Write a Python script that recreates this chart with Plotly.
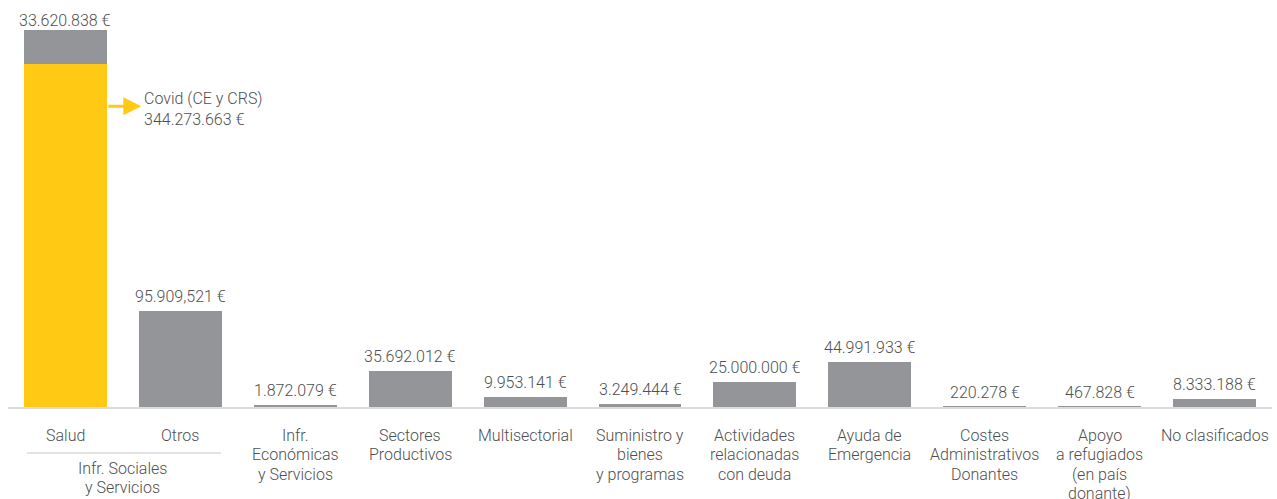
import plotly.graph_objects as go

# Sector categories (x positions) and their multi-line labels
categories = ["Salud", "Otros", "Infr. Económicas", "Sectores Productivos", "Multisectorial",
              "Suministro y bienes", "Actividades deuda", "Ayuda de Emergencia",
              "Costes Administrativos", "Apoyo a refugiados", "No clasificados"]
tick_labels = ["Salud", "Otros", "Infr.\nEconómicas\ny Servicios", "Sectores\nProductivos",
               "Multisectorial", "Suministro y\nbienes\ny programas",
               "Actividades\nrelacionadas\ncon deuda", "Ayuda de\nEmergencia",
               "Costes\nAdministrativos\nDonantes", "Apoyo\na refugiados\n(en país\ndonante)",
               "No clasificados"]
group_label = "Infr. Sociales\ny Servicios"

# Amounts in euros
covid_values = [344273663, 0, 0, 0, 0, 0, 0, 0, 0, 0, 0]
other_values = [33620838, 95909521, 1872079, 35692012, 9953141, 3249444,
                25000000, 44991933, 220278, 467828, 8333188]
value_labels = ["33.620.838 €", "95.909,521 €", "1.872.079 €", "35.692.012 €", "9.953.141 €",
                "3.249.444 €", "25.000.000 €", "44.991.933 €", "220.278 €", "467.828 €",
                "8.333.188 €"]
covid_label = "Covid (CE y CRS)<br>344.273.663 €"

GREY = "#939598"
YELLOW = "#FFC914"
TEXT = "#4f4f4f"
FONT = dict(family="Roboto", size=16, color=TEXT, weight=300)

x = list(range(len(categories)))

fig = go.Figure()
fig.add_trace(go.Bar(x=x, y=covid_values, marker_color=YELLOW, marker_line_width=0,
                     hoverinfo="skip"))
fig.add_trace(go.Bar(x=x, y=other_values, marker_color=GREY, marker_line_width=0,
                     hoverinfo="skip"))

annotations = []
# value labels above each bar (the stacked bar's label sits a little closer)
for i, (c, o, lab) in enumerate(zip(covid_values, other_values, value_labels)):
    annotations.append(dict(x=i, y=c + o, text=lab, showarrow=False, yanchor="middle",
                            yshift=10 if c else 14.5, font=FONT))

# category labels below the axis, one annotation per line
LINE = 19.5
for i, lab in enumerate(tick_labels):
    for k, line in enumerate(lab.split("\n")):
        annotations.append(dict(x=i, y=0, yref="paper", text=line, showarrow=False,
                                yanchor="middle", yshift=-(28 + k * LINE), font=FONT))
for k, line in enumerate(group_label.split("\n")):
    annotations.append(dict(x=0.5, y=0, yref="paper", text=line, showarrow=False,
                            yanchor="middle", yshift=-(61 + k * LINE), font=FONT))

# Covid callout arrow and text
arrow_y = covid_values[0] * 0.877
annotations.append(dict(x=0.66, y=arrow_y, ax=0.36, ay=arrow_y, axref="x", ayref="y",
                        text="", showarrow=True, arrowhead=2, arrowsize=1.2,
                        arrowwidth=3, arrowcolor=YELLOW))
annotations.append(dict(x=0.67, y=arrow_y, text=covid_label, showarrow=False,
                        xanchor="left", yanchor="middle", align="left", yshift=-3,
                        font=FONT))

fig.update_layout(
    barmode="stack",
    bargap=0.278,
    width=1277, height=499,
    margin=dict(l=8, r=5, t=8, b=92),
    plot_bgcolor="white", paper_bgcolor="white",
    showlegend=False,
    annotations=annotations,
    shapes=[dict(type="line", xref="x", yref="paper", x0=-0.335, x1=1.354,
                 ysizemode="pixel", yanchor=0, y0=-46, y1=-46,
                 line=dict(color="#c8c8c8", width=1.2))],
    xaxis=dict(range=[-0.5, 10.5], showticklabels=False, showgrid=False, zeroline=False,
               showline=True, linecolor="#dcdcdc", linewidth=2, ticks=""),
    yaxis=dict(range=[0, 400.4e6], visible=False, showgrid=False, zeroline=False),
)

fig.write_html("out.html")
